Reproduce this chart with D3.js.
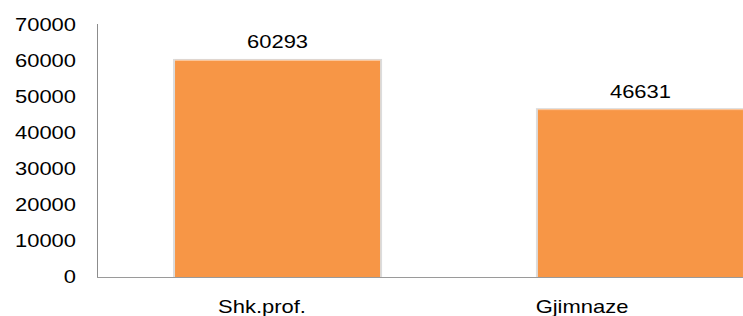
<!DOCTYPE html>
<html>
<head>
<meta charset="utf-8">
<script src="https://cdn.jsdelivr.net/npm/d3@7"></script>
<style>
  body { margin: 0; background: #fff; }
  text { font-family: "Liberation Sans", Arial, sans-serif; fill: #000; }
</style>
</head>
<body>
<svg id="chart"></svg>
<script>
const categories = ["Shk.prof.", "Gjimnaze"];
const values = [60293, 46631];
const yTicks = [0, 10000, 20000, 30000, 40000, 50000, 60000, 70000];

const width = 743, height = 316;
const stretch = 1.22; // picture is stretched horizontally

const svg = d3.select("#chart").attr("width", width).attr("height", height);

const x = d3.scaleBand()
    .domain(categories)
    .range([97, 821])
    .paddingInner(0.435)
    .paddingOuter(0.215);

// category labels sit slightly left of their bars in the picture
const xLabel = d3.scalePoint()
    .domain(categories)
    .range([262, 582]);

const y = d3.scaleLinear()
    .domain([0, 70000])
    .range([277, 25]);

// bars with a soft grey shadow
const bars = svg.append("g");
bars.selectAll("rect.shadow")
    .data(values)
    .join("rect")
    .attr("class", "shadow")
    .attr("x", (d, i) => x(categories[i]) - 2)
    .attr("y", d => y(d) - 1)
    .attr("width", x.bandwidth() + 4)
    .attr("height", d => y(0) - y(d) + 1)
    .attr("fill", "#dcdcdc");

bars.selectAll("rect.bar")
    .data(values)
    .join("rect")
    .attr("class", "bar")
    .attr("x", (d, i) => x(categories[i]))
    .attr("y", d => y(d))
    .attr("width", x.bandwidth())
    .attr("height", d => y(0) - y(d))
    .attr("fill", "#F79646");

bars.selectAll("line.top")
    .data(values)
    .join("line")
    .attr("class", "top")
    .attr("x1", (d, i) => x(categories[i]))
    .attr("x2", (d, i) => x(categories[i]) + x.bandwidth())
    .attr("y1", d => y(d) + 0.5)
    .attr("y2", d => y(d) + 0.5)
    .attr("stroke", "#fbc9a0");

// axes lines
svg.append("line")
    .attr("x1", 97.5).attr("x2", 97.5)
    .attr("y1", y(70000) - 1).attr("y2", y(0) + 1)
    .attr("stroke", "#8c8c8c");
svg.append("line")
    .attr("x1", 97).attr("x2", width)
    .attr("y1", y(0) + 0.5).attr("y2", y(0) + 0.5)
    .attr("stroke", "#9a9a9a");

// y tick labels
svg.append("g").selectAll("text")
    .data(yTicks)
    .join("text")
    .attr("transform", d => `translate(76,${y(d)}) scale(${stretch},1)`)
    .attr("text-anchor", "end")
    .attr("dy", "0.36em")
    .style("font-size", "18px")
    .text(d => d);

// value labels
svg.append("g").selectAll("text")
    .data(values)
    .join("text")
    .attr("transform", (d, i) => `translate(${x(categories[i]) + x.bandwidth() / 2},${y(d) - 18}) scale(${stretch},1)`)
    .attr("text-anchor", "middle")
    .attr("dy", "0.36em")
    .style("font-size", "18px")
    .text(d => d);

// category labels
svg.append("g").selectAll("text")
    .data(categories)
    .join("text")
    .attr("transform", d => `translate(${xLabel(d)},307) scale(${stretch},1)`)
    .attr("text-anchor", "middle")
    .attr("dy", "0.36em")
    .style("font-size", "18px")
    .text(d => d);
</script>
</body>
</html>
